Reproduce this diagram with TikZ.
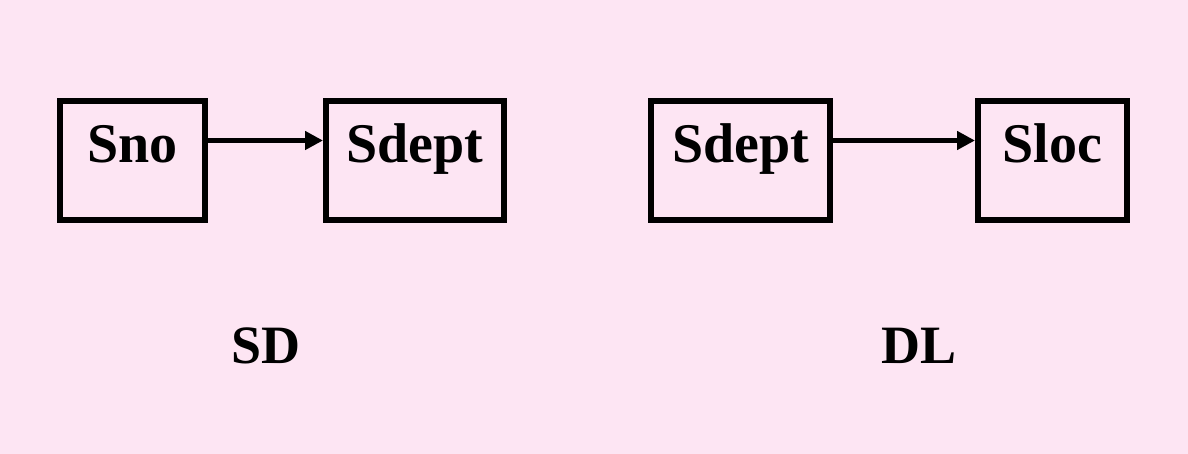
\documentclass[tikz,border=0pt]{standalone}
\usepackage{fontspec}
\setmainfont{Liberation Serif}
\usetikzlibrary{positioning,arrows.meta}
\definecolor{slidepink}{RGB}{253,229,243}

\begin{document}
\begin{tikzpicture}[x=0.5pt,y=-0.5pt,
  attr/.style={draw,line width=3pt,minimum height=59.5pt,
    text height=19pt,text depth=17pt,
    font=\fontsize{28}{32}\selectfont\bfseries},
  fd/.style={line width=2.3pt,-{Triangle[length=9pt,width=9pt]}},
  schema/.style={font=\fontsize{27}{31}\selectfont\bfseries}]
\fill[slidepink] (0,0) rectangle (1188,454);
\useasboundingbox (0,0) rectangle (1188,454);

% SD: Sno -> Sdept
\node[attr,minimum width=72.5pt] (sno) at (132.5,160.5) {Sno};
\node[attr,minimum width=89pt,right=57.5pt of sno] (sdept) {Sdept};
% DL: Sdept -> Sloc
\node[attr,minimum width=89.5pt,right=70.5pt of sdept] (sdeptdl) {Sdept};
\node[attr,minimum width=74.5pt,right=71pt of sdeptdl] (sloc) {Sloc};

\draw[fd] ([yshift=10pt]sno.east) -- ([yshift=10pt]sdept.west);
\draw[fd] ([yshift=10pt]sdeptdl.east) -- ([yshift=10pt]sloc.west);

\node[schema] (sd) at (266,346) {SD};
\node[schema] (dl) at (919,346) {DL};
\end{tikzpicture}
\end{document}
